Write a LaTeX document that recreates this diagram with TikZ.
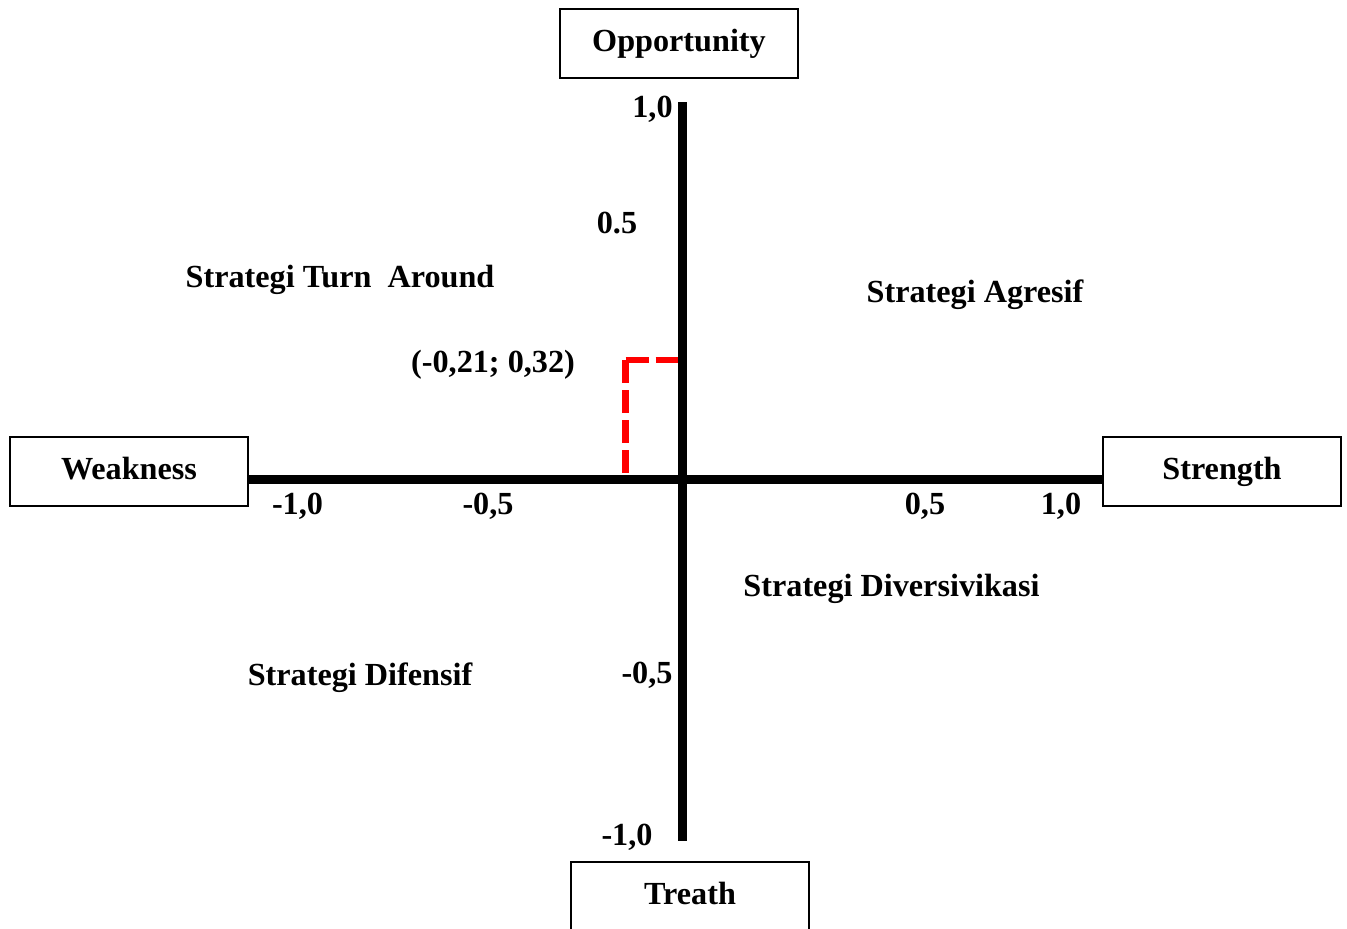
\documentclass[tikz,border=0pt]{standalone}
\usepackage{fontspec}
\setmainfont{Liberation Serif}
\usepackage{xcolor}
\usepackage{tikz}
\usetikzlibrary{positioning, calc}
\definecolor{pointred}{rgb}{1.0, 0.0, 0.0}

\tikzset{
	quadbox/.style={draw, line width=1.6pt, minimum width=238pt, minimum height=69pt, inner sep=0pt, text height=26pt, text depth=10pt},
	ticklbl/.style={anchor=base, inner sep=0pt},
	axisline/.style={line width=8.5pt}
}

\begin{document}
\begin{tikzpicture}[x=1pt, y=-1pt, font=\fontsize{32.2}{38}\selectfont\bfseries]
		\useasboundingbox (0,0) rectangle (1347,929);
		%%\draw[help lines] (0,0) grid (1347,929);
		\node[quadbox] (opp) at (679,43.5) {Opportunity};
		\node[quadbox] (weak) at (129,471.5) {Weakness};
		\node[quadbox] (str) at (1222,471.5) {Strength};
		\node[quadbox] (thr) at (690,896.5) {Treath};
		
		\coordinate (O) at (682.5,479.5);
		\coordinate (ytop) at (682.5,102);
		\coordinate (ybot) at (682.5,841);
		\draw [axisline] (weak.east |- O) -- (str.west |- O);
		\draw [axisline] (ytop) -- (ybot);
		
		\coordinate (P) at (625.5,360);
		\coordinate (Px) at (625.5,475);
		\coordinate (Py) at (678.2,360);
		\draw [pointred, line width=6.5pt, dash pattern=on 23pt off 7pt] (P) -- (Px) (P) -- (Py);
		
		\node[ticklbl] (y1) at (652.5,117) {1,0};
		\node[ticklbl] (y05) at (617,233) {0.5};
		\node[ticklbl] (ym05) at (647,683) {-0,5};
		\node[ticklbl] (ym1) at (627,845) {-1,0};
		\node[ticklbl] (xm1) at (297.5,514) {-1,0};
		\node[ticklbl] (xm05) at (488,514) {-0,5};
		\node[ticklbl] (x05) at (925,514) {0,5};
		\node[ticklbl] (x1) at (1061,514) {1,0};
		
		\node[ticklbl] (turn) at (340,287) {Strategi Turn\ \ Around};
		\node[ticklbl] (agr) at (975,302) {Strategi Agresif};
		\node[ticklbl] (pt) at (493,372) {(-0,21; 0,32)};
		\node[ticklbl] (div) at (891.5,596) {Strategi Diversivikasi};
		\node[ticklbl] (dif) at (360,685) {Strategi Difensif};
\end{tikzpicture}
\end{document}
